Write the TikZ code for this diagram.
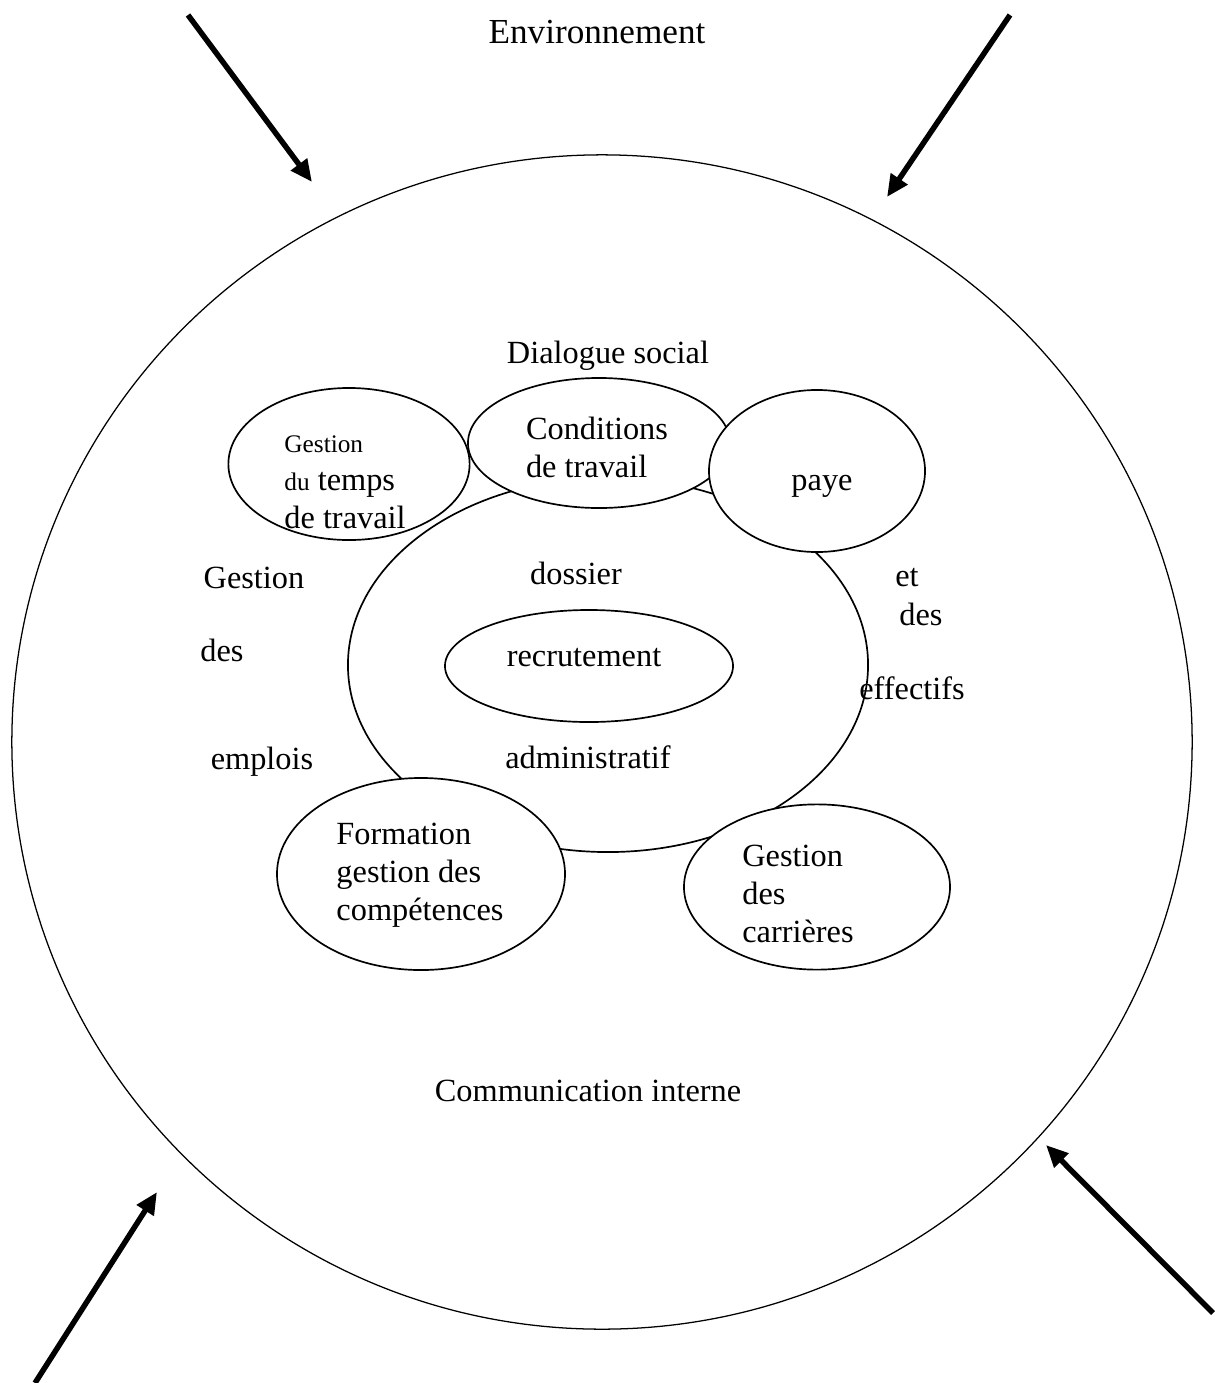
\documentclass[tikz,border=0pt]{standalone}
\usepackage{fontspec}
\setmainfont{Liberation Serif}
\usetikzlibrary{arrows.meta,shapes.geometric}

\begin{document}
\begin{tikzpicture}[
  x=0.025cm, y=-0.025cm,
  font=\fontsize{23}{27}\selectfont,
  oval/.style={draw,ellipse,line width=1.2pt,fill=white,inner sep=0pt},
  word/.style={inner sep=0pt,align=left},
  push/.style={-{Triangle[length=5.5mm,width=4.8mm]},line width=3.9pt}
]
\useasboundingbox (0,0) rectangle (1215,1383);
% the organisation and its fields
\node[oval,line width=0.9pt,minimum width=29.5cm,minimum height=29.35cm] (org) at (602,742) {};
\node[oval,minimum width=13cm,minimum height=9.35cm] (dossier) at (608,665) {};
\node[oval,minimum width=7.2cm,minimum height=2.8cm] (recru) at (589,666) {};
\node[oval,minimum width=6.55cm,minimum height=3.25cm] (cond) at (599,443) {};
\node[oval,minimum width=6.03cm,minimum height=3.8cm] (temps) at (349,464) {};
\node[oval,minimum width=5.4cm,minimum height=4.05cm] (paye) at (817,471) {};
\node[oval,minimum width=7.2cm,minimum height=4.8cm] (form) at (421,874) {};
\node[oval,minimum width=6.65cm,minimum height=4.13cm] (carr) at (817,887) {};
% texts
\node[word,font=\fontsize{25}{29}\selectfont] (env) at (597,32) {Environnement};
\node[word] (dial) at (608,356) {Dialogue social};
\node[word] (condtxt) at (597,447) {Conditions\\de travail};
\node[word] (tempstxt) at (345,482) {{\fontsize{18}{27}\selectfont Gestion}\\{\fontsize{18}{27}\selectfont du} temps\\de travail};
\node[word] (payetxt) at (822,486) {paye};
\node[word] (dos1) at (576,573) {dossier};
\node[word] (recrutxt) at (584,658) {recrutement};
\node[word] (dos2) at (588,757) {administratif};
\node[word] (gpe1) at (254,578) {Gestion};
\node[word] (gpe2) at (222,650) {des};
\node[word] (gpe3) at (262,762) {emplois};
\node[word] (gpe4) at (907,578) {et};
\node[word] (gpe5) at (921,614) {des};
\node[word] (gpe6) at (912,688) {effectifs};
\node[word] (formtxt) at (420,875) {Formation\\gestion des\\comp\'etences};
\node[word] (carrtxt) at (798,894) {Gestion\\des\\carri\`eres};
\node[word] (comm) at (588,1091) {Communication interne};
% outside pressure
\coordinate (nwA) at (188,15);  \coordinate (nwB) at (312,182);
\coordinate (neA) at (1010,15); \coordinate (neB) at (887,197);
\coordinate (swA) at (35,1383); \coordinate (swB) at (157,1192);
\coordinate (seA) at (1213,1313); \coordinate (seB) at (1046,1145);
\draw[push] (nwA) -- (nwB);
\draw[push] (neA) -- (neB);
\draw[push] (swA) -- (swB);
\draw[push] (seA) -- (seB);
\end{tikzpicture}
\end{document}
